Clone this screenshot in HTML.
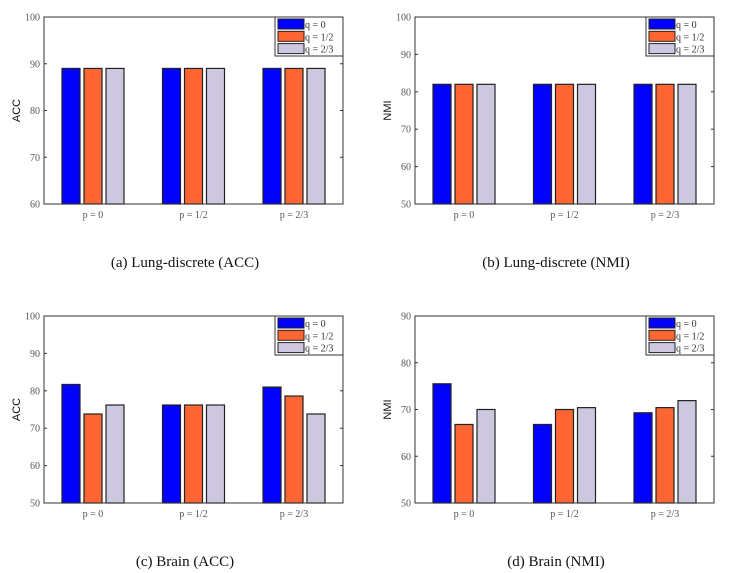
<!DOCTYPE html>
<html><head><meta charset="utf-8"><style>
html,body{margin:0;padding:0;background:#fff;width:737px;height:573px;overflow:hidden}
svg{display:block}
</style></head><body>
<svg id="fig" width="737" height="573" xmlns="http://www.w3.org/2000/svg"></svg>
<script>
const categories = ["p = 0", "p = 1/2", "p = 2/3"];
const seriesNames = ["q = 0", "q = 1/2", "q = 2/3"];
const colors = ["#0000ff", "#ff6633", "#cdc8e0"];
const aValues = [[89, 89, 89], [89, 89, 89], [89, 89, 89]];
const bValues = [[82, 82, 82], [82, 82, 82], [82, 82, 82]];
const cValues = [[81.7, 76.2, 81], [73.8, 76.2, 78.6], [76.2, 76.2, 73.8]];
const dValues = [[75.5, 66.8, 69.3], [66.8, 70, 70.4], [70, 70.4, 71.9]];
const aTicks = [60, 70, 80, 90, 100];
const bTicks = [50, 60, 70, 80, 90, 100];
const cTicks = [50, 60, 70, 80, 90, 100];
const dTicks = [50, 60, 70, 80, 90];
const charts = [
  {id:"lung-acc", x0:44, y0:17, vals:aValues, ticks:aTicks, ylab:"ACC", cap:"(a) Lung-discrete (ACC)"},
  {id:"lung-nmi", x0:415, y0:17, vals:bValues, ticks:bTicks, ylab:"NMI", cap:"(b) Lung-discrete (NMI)"},
  {id:"brain-acc", x0:44, y0:316, vals:cValues, ticks:cTicks, ylab:"ACC", cap:"(c) Brain (ACC)"},
  {id:"brain-nmi", x0:415, y0:316, vals:dValues, ticks:dTicks, ylab:"NMI", cap:"(d) Brain (NMI)"}
];
const NS="http://www.w3.org/2000/svg";
const fig=document.getElementById("fig");
function mk(tag,attrs,parent){const e=document.createElementNS(NS,tag);for(const k in attrs)e.setAttribute(k,attrs[k]);parent.appendChild(e);return e;}
charts.forEach(ch=>{
  const W=299,H=187;
  const g=mk("g",{},fig);
  
  
  const lo=ch.ticks[0], hi=ch.ticks[ch.ticks.length-1];
  const y=v=>ch.y0+H-(v-lo)/(hi-lo)*H;
  const xc=i=>ch.x0+49+i*100.5;
  // bars
  ch.vals.forEach((ser,s)=>{
    ser.forEach((v,i)=>{
      const r=mk("rect",{x:xc(i)-31+s*22,y:y(v),width:18,height:y(lo)-y(v),fill:colors[s],stroke:"#222","stroke-width":1.2},g);
      
      
    });
  });
  // axes box
  const box=mk("rect",{x:ch.x0,y:ch.y0,width:W,height:H,fill:"none",stroke:"#333","stroke-width":1},g);
  
  
  ch.ticks.forEach(t=>{
    mk("line",{x1:ch.x0,x2:ch.x0+3,y1:y(t),y2:y(t),stroke:"#333"},g);
    mk("line",{x1:ch.x0+W,x2:ch.x0+W-3,y1:y(t),y2:y(t),stroke:"#333"},g);
    const tl=mk("text",{x:ch.x0-4,y:y(t)+3.5,"text-anchor":"end","font-family":"Liberation Serif, serif","font-size":"10",fill:"#555"},g);
    tl.textContent=t;
    
    
  });
  categories.forEach((c,i)=>{
    const tl=mk("text",{x:xc(i),y:ch.y0+H+14,"text-anchor":"middle","font-family":"Liberation Serif, serif","font-size":"10",fill:"#555"},g);
    tl.textContent=c;
    
    
  });
  const yl=mk("text",{x:0,y:0,transform:`translate(${ch.x0-24},${ch.y0+H/2}) rotate(-90)`,"text-anchor":"middle","font-family":"Liberation Sans, sans-serif","font-size":"11",fill:"#111"},g);
  yl.textContent=ch.ylab;
  
  
  // legend
  const lx=ch.x0+W-68, ly=ch.y0;
  const lg=mk("g",{},g);
  
  
  mk("rect",{x:lx,y:ly,width:68,height:39,fill:"#fff",stroke:"#333"},lg);
  seriesNames.forEach((n,s)=>{
    const e=mk("g",{},lg);
    
    
    mk("rect",{x:lx+3,y:ly+2+s*12.3,width:26,height:10,fill:colors[s],stroke:"#222"},e);
    const t=mk("text",{x:lx+30,y:ly+11+s*12.3,"font-family":"Liberation Serif, serif","font-size":"10",fill:"#333"},e);
    t.textContent=n;
  });
  const cap=mk("text",{x:ch.x0+141,y:ch.y0+250,"text-anchor":"middle","font-family":"Liberation Serif, serif","font-size":"15",fill:"#111"},g);
  cap.textContent=ch.cap;
  
  
});
</script>
</body></html>
